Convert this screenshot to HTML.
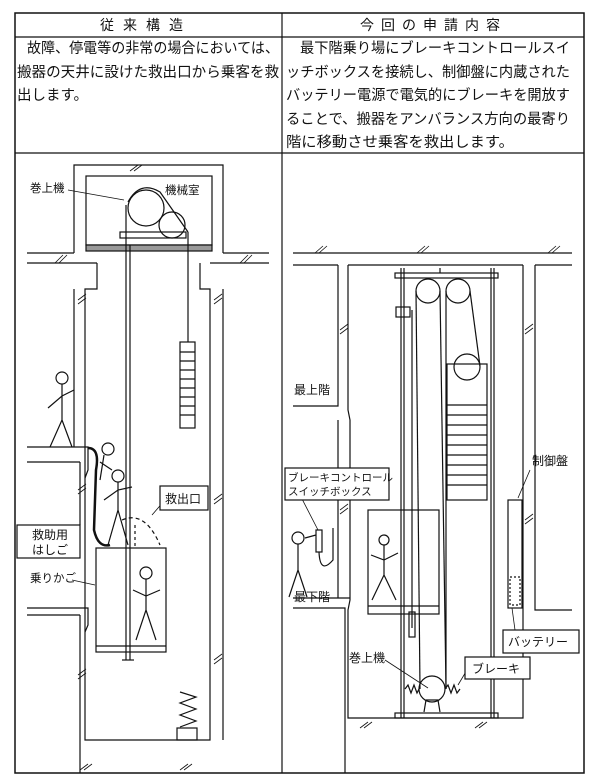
<!DOCTYPE html>
<html><head><meta charset="utf-8"><style>
html,body{margin:0;padding:0;background:#fff}
svg{display:block}
text{font-family:"Liberation Sans","Noto Sans CJK JP",sans-serif;fill:#111}
</style></head><body>
<svg width="600" height="783" viewBox="0 0 600 783" xmlns="http://www.w3.org/2000/svg" stroke="#111" fill="none" stroke-width="1.2">
<!-- table -->
<rect x="15" y="13" width="569" height="760" stroke-width="1.5"/>
<line x1="15" y1="37" x2="584" y2="37"/>
<line x1="15" y1="153" x2="584" y2="153"/>
<line x1="282" y1="13" x2="282" y2="773"/>
<g stroke="none" font-size="14">
<text x="100" y="30" letter-spacing="9">従来構造</text>
<text x="360" y="30" letter-spacing="7">今回の申請内容</text>
</g>
<g stroke="none" font-size="14.5">
<text x="27" y="53" textLength="252" lengthAdjust="spacingAndGlyphs">故障、停電等の非常の場合においては、</text>
<text x="17" y="77" textLength="262" lengthAdjust="spacingAndGlyphs">搬器の天井に設けた救出口から乗客を救</text>
<text x="17" y="100">出します。</text>
<text x="300" y="53" textLength="270" lengthAdjust="spacingAndGlyphs">最下階乗り場にブレーキコントロールスイ</text>
<text x="286" y="77" textLength="284" lengthAdjust="spacingAndGlyphs">ッチボックスを接続し、制御盤に内蔵された</text>
<text x="286" y="100" textLength="284" lengthAdjust="spacingAndGlyphs">バッテリー電源で電気的にブレーキを開放す</text>
<text x="286" y="124" textLength="284" lengthAdjust="spacingAndGlyphs">ることで、搬器をアンバランス方向の最寄り</text>
<text x="286" y="147" textLength="228" lengthAdjust="spacingAndGlyphs">階に移動させ乗客を救出します。</text>
</g>

<!-- LEFT DIAGRAM -->
<path d="M74 253 V165 H223 V253"/>
<rect x="86" y="176" width="126" height="69"/>
<rect x="86" y="245" width="126" height="6" fill="#999"/>
<rect x="120" y="232" width="66" height="6"/>
<circle cx="146" cy="208" r="18"/>
<circle cx="172" cy="225" r="13"/>
<path d="M128 202 Q140 180 160 192 L188 232"/>
<line x1="27" y1="253" x2="74" y2="253"/><line x1="223" y1="253" x2="269" y2="253"/>
<line x1="27" y1="263" x2="97" y2="263"/><line x1="210" y1="263" x2="269" y2="263"/>
<path d="M97 263 V289 H85 V740 H210 V289 H200 V263"/>
<line x1="74" y1="289" x2="74" y2="447"/><line x1="223" y1="289" x2="223" y2="740"/>
<!-- ropes -->
<line x1="126" y1="205" x2="126" y2="660"/><line x1="130" y1="245" x2="130" y2="660"/>
<line x1="188" y1="232" x2="188" y2="342"/>
<rect x="180" y="342" width="15" height="86"/>
<path d="M180 352H195M180 361H195M180 370H195M180 379H195M180 388H195M180 397H195M180 406H195M180 415H195"/>
<!-- car -->
<rect x="96" y="548" width="70" height="104"/>
<line x1="96" y1="646" x2="166" y2="646"/>
<line x1="122" y1="660" x2="134" y2="660"/>
<!-- spring -->
<path d="M180 692 L196 697 L180 703 L196 709 L180 715 L196 721 L180 727" />
<rect x="177" y="728" width="20" height="12"/>
<!-- landings -->
<path d="M27 447 H88 V470 L85 478"/><line x1="27" y1="462" x2="80" y2="462"/><line x1="80" y1="462" x2="80" y2="525"/>
<path d="M27 608 H88 V625 L85 632"/><line x1="27" y1="615" x2="80" y2="615"/><line x1="80" y1="615" x2="80" y2="773"/>
<!-- people -->
<g>
<circle cx="62" cy="378" r="6"/><path d="M62 384V420 L50 447 M62 420 L72 447 M48 408 L62 396 L74 390"/>
<circle cx="108" cy="449" r="6"/><path d="M104 455 L100 480 M100 462 L112 470"/>
<circle cx="118" cy="476" r="6"/><path d="M118 482 V510 L108 545 M118 510 L128 545 M104 500 L118 490 L132 487"/>
<circle cx="146" cy="573" r="6"/><path d="M146 579V610 L136 640 M146 610 L156 640 M133 590 L146 596 L160 590"/>
</g>
<path d="M88 448 Q100 448 96 470 L94 530 Q98 548 110 545" stroke-width="2.5"/>
<path d="M122 520 Q145 510 160 545" stroke-dasharray="4 3"/>
<line x1="135" y1="525" x2="135" y2="548" stroke-dasharray="3 3"/>
<!-- labels left -->
<g stroke="none" font-size="11.5">
<text x="30" y="192">巻上機</text>
<text x="165" y="194">機械室</text>
<text x="30" y="582">乗りかご</text>
</g>
<path d="M68 190 L124 200 M72 580 L95 585 M165 500 L152 515" stroke-width="0.8"/>
<rect x="160" y="486" width="48" height="24" fill="#fff"/>
<rect x="17" y="525" width="63" height="33" fill="#fff"/>
<g stroke="none" font-size="12"><text x="165" y="503">救出口</text><text x="32" y="539">救助用</text><text x="32" y="554">はしご</text></g>

<!-- RIGHT DIAGRAM -->
<line x1="293" y1="253" x2="572" y2="253"/>
<line x1="293" y1="265" x2="338" y2="265"/><line x1="348" y1="265" x2="523" y2="265"/><line x1="535" y1="265" x2="572" y2="265"/>
<path d="M338 265 V406 H293"/><path d="M348 265 V410 L350 420 V600 L348 610 V718 H523 V265"/>
<line x1="338" y1="420" x2="338" y2="598"/>
<path d="M293 598 H350 M293 608 H345 V773" />
<path d="M535 265 V610 H572"/>
<!-- frame -->
<rect x="395" y="273" width="103" height="5"/>
<line x1="401" y1="268" x2="401" y2="718"/><line x1="404" y1="268" x2="404" y2="718"/>
<line x1="491" y1="268" x2="491" y2="718"/><line x1="494" y1="268" x2="494" y2="718"/>
<line x1="440" y1="268" x2="440" y2="273"/>
<rect x="395" y="713" width="103" height="5"/>
<circle cx="428" cy="291" r="12"/><circle cx="458" cy="291" r="12"/>
<line x1="416" y1="291" x2="420" y2="689"/><line x1="440" y1="291" x2="446" y2="689"/>
<line x1="446" y1="291" x2="446" y2="689"/><line x1="470" y1="291" x2="480" y2="366"/>
<line x1="412" y1="310" x2="412" y2="628"/><rect x="396" y="307" width="14" height="10"/>
<rect x="409" y="612" width="6" height="25"/>
<!-- counterweight -->
<rect x="447" y="364" width="40" height="136"/>
<circle cx="467" cy="367" r="13"/>
<path d="M447 405H487M447 415H487M447 425H487M447 435H487M447 445H487M447 455H487M447 465H487M447 475H487M447 485H487"/>
<!-- car -->
<rect x="368" y="510" width="71" height="104"/>
<line x1="368" y1="606" x2="439" y2="606"/>
<circle cx="384" cy="540" r="5"/><path d="M384 545V575 L372 600 M384 575 L396 600 M371 555 L384 560 L398 553"/>
<!-- hoist -->
<circle cx="432" cy="689" r="13"/>
<path d="M405 689 L408 685 L411 693 L414 685 L417 693 L419 689 M445 689 L448 685 L451 693 L454 685 L457 693 L460 689"/>
<path d="M424 712 L426 700 H438 L440 712"/>
<!-- control panel -->
<rect x="508" y="500" width="14" height="108"/>
<rect x="510" y="577" width="10" height="28" stroke-dasharray="2 2"/>
<!-- switch box person -->
<circle cx="298" cy="538" r="6"/><path d="M298 544V570 L289 597 M298 570 L307 597 M305 538 L316 535"/>
<rect x="316" y="530" width="6" height="22"/>
<path d="M319 552 Q320 575 333 560 V528" />
<!-- labels right -->
<g stroke="none" font-size="12">
<text x="294" y="394">最上階</text>
<text x="294" y="601">最下階</text>
<text x="532" y="465">制御盤</text>
<text x="349" y="662">巻上機</text>
</g>
<path d="M385 660 L428 688 M530 470 L518 498 M515 630 L512 608 M470 665 L458 685 M300 495 L318 530" stroke-width="0.8"/>
<rect x="285" y="468" width="104" height="32" fill="#fff"/>
<rect x="503" y="630" width="76" height="23" fill="#fff"/>
<rect x="465" y="657" width="65" height="22" fill="#fff"/>
<g stroke="none" font-size="10.5"><text x="288" y="481">ブレーキコントロール</text><text x="288" y="495">スイッチボックス</text></g>
<g stroke="none" font-size="12"><text x="508" y="646">バッテリー</text><text x="472" y="673">ブレーキ</text></g>
<!-- hatch marks -->
<g stroke-width="0.8">
<path d="M130 171l8-6M134 171l8-6M55 263l8-8M59 263l8-8M240 263l8-8M244 263l8-8M78 300l8-6M78 304l8-6M214 300l8-6M214 304l8-6M214 500l8-6M214 504l8-6M78 490l8-6M78 494l8-6M214 660l8-6M214 664l8-6M78 675l8-6M78 679l8-6M80 770l8-6M84 770l8-6M180 770l8-6M184 770l8-6"/>
<path d="M315 253l8-7M319 253l8-7M417 253l8-7M421 253l8-7M548 253l8-7M552 253l8-7M340 330l8-6M340 334l8-6M340 510l8-6M340 514l8-6M525 330l8-6M525 334l8-6M525 520l8-6M525 524l8-6M360 728l8-6M364 728l8-6M475 728l8-6M479 728l8-6"/>
</g>
</svg>
</body></html>
